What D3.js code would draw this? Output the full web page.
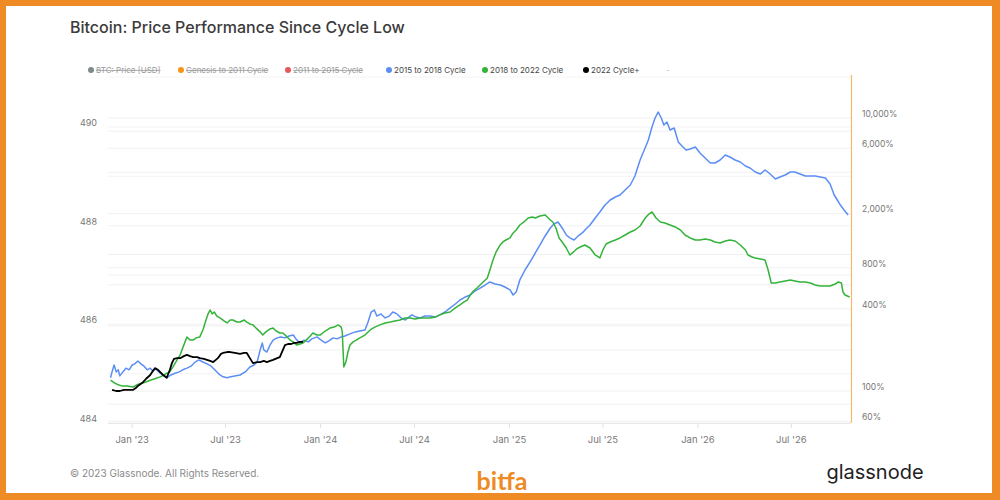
<!DOCTYPE html>
<html><head><meta charset="utf-8">
<script src="https://cdn.jsdelivr.net/npm/d3@7"></script>
<style>
html,body{margin:0;padding:0;background:#fff;}
svg{display:block;font-family:Inter,"Noto Sans",sans-serif;}
</style></head><body>
<svg id="chart" width="1000" height="500"></svg>
<script>
// ---------- data (days since cycle low, performance in %) ----------
const cycleLowDate = "2022-11-21";

const blueDays = [0,3,7,11,15,18,24,30,36,42,47,53,59,65,71,77,82,88,96,104,109,117,125,133,140,148,156,164,171,179,187,195,202,210,218,226,233,241,251,261,270,278,284,290,294,297,303,309,315,323,330,338,346,354,361,367,375,383,390,400,408,416,423,431,439,447,454,464,474,483,493,499,505,511,516,524,532,540,547,555,563,571,578,584,592,600,609,619,629,638,648,658,668,677,687,697,706,716,726,735,745,755,764,774,780,786,793,803,813,823,832,842,852,859,867,875,883,890,898,906,914,921,929,939,948,958,968,978,987,997,1007,1016,1026,1034,1042,1049,1055,1061,1067,1072,1078,1084,1092,1100,1107,1115,1123,1133,1142,1152,1162,1171,1181,1191,1200,1210,1220,1230,1239,1249,1259,1268,1278,1288,1297,1307,1317,1326,1336,1346,1356,1365,1375,1385,1394,1402,1408,1414,1421,1429];
const blueValues = [125,138,155,138,143,129,138,147,143,155,158,166,158,152,143,147,140,145,135,129,125,131,135,138,143,147,152,163,169,163,158,152,143,133,127,125,127,129,131,138,150,155,163,200,225,200,193,217,236,245,249,245,253,257,236,225,236,229,241,249,236,225,233,245,241,249,253,262,271,275,280,320,379,392,354,367,343,354,379,367,343,331,348,361,348,343,354,354,348,361,379,406,434,464,488,505,540,568,598,629,608,598,578,550,505,531,651,770,882,1026,1174,1367,1564,1673,1731,1564,1390,1322,1277,1367,1438,1538,1645,1851,2048,2304,2507,2638,2729,2969,3229,3759,4924,5829,6900,8592,10002,11067,10002,8887,9348,8168,8448,6671,6236,5829,5928,6132,5542,5093,4681,4681,4924,5357,5180,4924,4761,4450,4302,4021,3888,4159,3888,3574,3696,3823,4021,4021,3888,3759,3759,3759,3696,3635,3285,2729,2507,2304,2118,1947];

const greenDays = [0,7,15,22,32,44,51,57,67,77,86,96,104,109,115,121,129,135,140,148,154,160,166,173,179,185,189,193,197,201,206,212,220,226,232,237,245,251,259,264,270,276,282,290,295,301,309,315,321,328,334,342,348,354,361,367,373,379,387,392,400,406,416,425,433,441,447,449,452,456,460,464,470,476,483,493,503,512,522,532,542,551,561,571,580,590,600,609,619,629,638,648,658,668,677,685,691,697,703,710,716,722,730,735,741,747,755,760,766,774,780,786,793,801,809,817,823,832,842,852,857,863,869,875,883,890,897,903,910,919,929,939,948,954,960,968,978,987,997,1007,1016,1026,1036,1043,1049,1057,1065,1074,1084,1094,1104,1113,1123,1133,1142,1152,1162,1171,1181,1191,1200,1210,1220,1230,1235,1243,1249,1259,1268,1274,1280,1288,1297,1307,1317,1326,1336,1346,1356,1365,1375,1385,1394,1404,1410,1416,1419,1423,1432];
const greenValues = [120,115,111,109,109,107,111,113,116,120,123,127,131,135,138,150,169,184,207,249,236,236,245,249,280,331,367,392,367,379,354,343,326,315,331,331,320,320,331,320,310,305,289,271,257,271,285,289,275,266,266,249,236,229,217,221,225,236,253,266,257,257,275,289,294,305,294,271,150,163,193,217,229,236,245,257,280,294,305,315,320,326,331,343,343,337,343,343,343,348,361,373,379,406,427,449,464,505,540,568,598,629,673,770,912,1044,1174,1235,1277,1322,1438,1512,1645,1731,1851,1883,1851,1915,1947,1790,1731,1564,1322,1235,1116,992,1044,1098,1135,1174,1116,992,943,1079,1194,1235,1277,1322,1390,1462,1512,1618,1851,1980,2048,1851,1731,1702,1645,1591,1512,1390,1322,1277,1277,1299,1277,1235,1214,1256,1277,1256,1174,1079,992,959,943,927,912,770,618,618,629,640,651,640,629,629,618,598,588,588,588,608,629,618,531,505,488];

const blackDays = [3,11,18,26,34,44,49,53,59,63,69,77,82,86,92,96,102,109,115,119,123,129,135,142,148,154,160,168,173,181,187,193,199,204,208,214,218,226,232,241,251,259,264,270,276,284,290,297,303,309,315,323,328,334,338,344,350,356,361,367,373];
const blackValues = [102,100,100,102,102,102,105,109,113,116,123,131,140,147,143,138,131,125,143,160,172,174,174,180,184,180,177,177,174,172,169,166,163,169,174,187,190,193,193,190,187,190,190,174,160,163,163,166,163,166,169,174,177,200,217,221,221,225,225,229,229];

const legendLabels = ["BTC: Price [USD]","Genesis to 2011 Cycle","2011 to 2015 Cycle","2015 to 2018 Cycle","2018 to 2022 Cycle","2022 Cycle+","-"];
const legendColors = ["#7d8b8c","#f7931a","#e8575c","#5b8ef5","#34b33a","#000000",null];
const legendHidden = [true,true,true,false,false,false,false];

const rightTicks = [60,100,400,800,2000,6000,10000];
const rightGrid = [60,80,100,200,300,400,600,800,1000,2000,4000,6000,8000,10000];
const leftTicks = [484,486,488,490];
const leftGrid = [484,485,486,487,488,489,490];

// ---------- layout ----------
const svg = d3.select("#chart");
const W = 1000, H = 500;
const plotL = 108, plotR = 851, plotT = 100, plotB = 423;

svg.append("rect").attr("width",W).attr("height",H).attr("fill","#ee8b25");
svg.append("rect").attr("x",6).attr("y",6).attr("width",986).attr("height",487).attr("fill","#fff");

const parse = d3.utcParse("%Y-%m-%d");
const low = parse(cycleLowDate);
const x = d3.scaleUtc().domain([low, parse("2026-10-24")]).range([110.5, 850.2]);
const y = d3.scaleLog().domain([100,10000]).range([391,118]);
const yL = d3.scaleLinear().domain([484,490]).range([423,127]);

// title
svg.append("text").attr("x",70).attr("y",33).attr("font-size",16).attr("font-weight",500)
  .attr("fill","#3b3b3b").text("Bitcoin: Price Performance Since Cycle Low");

// legend
const legX = [88,178,285,386,482,583,666];
const leg = svg.append("g");
legendLabels.forEach((lab,i)=>{
  const g = leg.append("g").attr("transform",`translate(${legX[i]},70)`);
  let tx = 0;
  if (legendColors[i]) {
    g.append("circle").attr("cx",3).attr("cy",0).attr("r",3).attr("fill",legendColors[i]);
    tx = 8;
  }
  const t = g.append("text").attr("x",tx).attr("y",3).attr("font-size",8)
    .attr("fill", legendHidden[i] ? "#9a9a9a" : (legendColors[i] ? "#444" : "#bbb")).text(lab);
  if (legendHidden[i]) t.attr("text-decoration","line-through");
});
svg.append("line").attr("x1",plotL).attr("x2",plotR).attr("y1",77).attr("y2",77).attr("stroke","#f4f4f4");

// gridlines
const grid = svg.append("g");
rightGrid.forEach(v=>{
  grid.append("line").attr("x1",plotL).attr("x2",plotR).attr("y1",y(v)).attr("y2",y(v))
    .attr("stroke","#f0f0f0").attr("stroke-width",1);
});
leftGrid.forEach(v=>{
  grid.append("line").attr("x1",plotL).attr("x2",plotR).attr("y1",yL(v)).attr("y2",yL(v))
    .attr("stroke","#f3f3f3").attr("stroke-width",1);
});

// x axis
const xAxis = d3.axisBottom(x).ticks(d3.utcMonth.every(6)).tickFormat(d3.utcFormat("%b '%y")).tickSize(5).tickPadding(8);
const gx = svg.append("g").attr("transform",`translate(0,${plotB})`).call(xAxis);
gx.select(".domain").remove();
gx.selectAll(".tick line").attr("stroke","#e2e2e2");
gx.selectAll(".tick text").attr("font-size",9.5).attr("fill","#777").attr("font-family","Inter,'Noto Sans',sans-serif");
svg.append("line").attr("x1",plotL).attr("x2",plotR).attr("y1",plotB+0.5).attr("y2",plotB+0.5).attr("stroke","#e6e6e6");

// right axis
svg.append("line").attr("x1",plotR+0.5).attr("x2",plotR+0.5).attr("y1",75).attr("y2",plotB)
  .attr("stroke","#f6b86e").attr("stroke-width",1.2);
const fmtR = d3.format(",");
svg.append("g").selectAll("text").data(rightTicks).join("text")
  .attr("x",862).attr("y",d=>y(d)-1).attr("font-size",8.5).attr("fill","#777").text(d=>fmtR(d)+"%");

// left axis
svg.append("g").selectAll("text").data(leftTicks).join("text")
  .attr("x",97).attr("y",d=>yL(d)-1).attr("text-anchor","end").attr("font-size",9).attr("fill","#777").text(d=>d);

// lines
const line = d3.line().x(d=>x(d3.utcDay.offset(low,d[0]))).y(d=>y(d[1])).curve(d3.curveLinear);
const series = [
  {days:blueDays, vals:blueValues, color:"#5b8ef5", w:1.5},
  {days:greenDays, vals:greenValues, color:"#34b33a", w:1.5},
  {days:blackDays, vals:blackValues, color:"#000", w:1.8}
];
series.forEach(s=>{
  const pts = s.days.map((d,i)=>[d,s.vals[i]]);
  svg.append("path").datum(pts).attr("d",line).attr("fill","none")
    .attr("stroke",s.color).attr("stroke-width",s.w).attr("stroke-linejoin","round");
});

// footer
svg.append("text").attr("x",70).attr("y",477).attr("font-size",10).attr("fill","#8a8a8a")
  .text("\u00A9 2023 Glassnode. All Rights Reserved.");
svg.append("text").attr("x",502).attr("y",490).attr("text-anchor","middle").attr("font-size",25)
  .attr("font-weight",700).attr("fill","#ee8b25").attr("font-family","Lato,sans-serif").text("bitfa");
svg.append("text").attr("x",875).attr("y",479).attr("text-anchor","middle").attr("font-size",20)
  .attr("font-weight",400).attr("fill","#222").text("glassnode");
</script>
</body></html>
